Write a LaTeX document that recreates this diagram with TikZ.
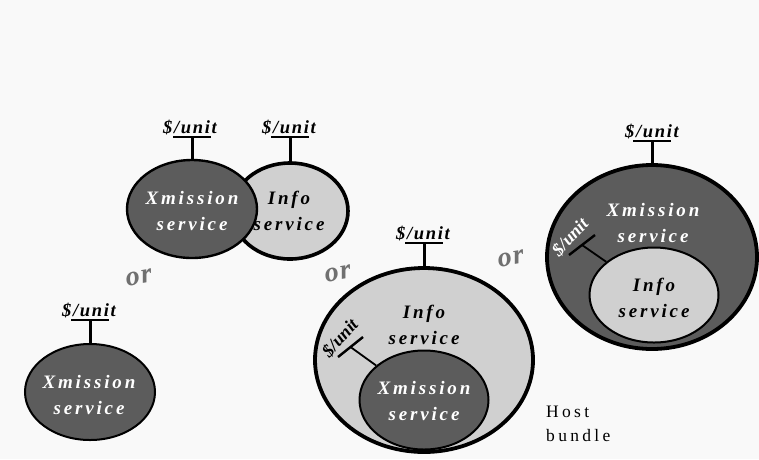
\documentclass[tikz,border=0pt]{standalone}
\usepackage{fontspec}
\setmainfont{Liberation Serif}
\newfontfamily\svcfont[LetterSpace=15]{Liberation Serif}
\newfontfamily\tagfont[LetterSpace=9]{Liberation Serif}
\newfontfamily\orfont[LetterSpace=6]{Liberation Serif}
\newfontfamily\hostfont[LetterSpace=19]{Liberation Serif}
\usetikzlibrary{shapes.geometric}
\definecolor{bgcol}{HTML}{F9F9F9}
\definecolor{darksvc}{HTML}{5C5C5C}
\definecolor{lightsvc}{HTML}{D0D0D0}
\definecolor{orgray}{HTML}{707070}
\tikzset{
  svc/.style={ellipse, draw=black, inner sep=0pt},
  darksvc/.style={svc, fill=darksvc},
  lightsvc/.style={svc, fill=lightsvc},
  svctext/.style={align=center, inner sep=0pt,
    font=\svcfont\fontsize{19}{25.5}\selectfont\bfseries\itshape},
  price/.style={anchor=base, inner sep=0pt,
    font=\tagfont\fontsize{18.5}{20}\selectfont\bfseries\itshape},
  smallprice/.style={inner sep=0pt,
    font=\fontsize{18}{20}\selectfont\bfseries\itshape},
  stem/.style={line width=3pt},
  bar/.style={line width=2.6pt},
  tick/.style={line width=2.4pt},
  link/.style={line width=1.8pt},
  ortext/.style={text=orgray, inner sep=0pt, rotate=10,
    font=\orfont\fontsize{28}{30}\selectfont\bfseries\itshape},
}
\begin{document}
\begin{tikzpicture}[x=1pt, y=-1pt]
  \fill[bgcol] (0,0) rectangle (759,459);
  \useasboundingbox (0,0) rectangle (759,459);

  % ---- separate Xmission and Info services, each priced ----
  \node[lightsvc, line width=3.6pt, minimum width=116pt, minimum height=96pt] (info1) at (290,211) {};
  \node[darksvc, line width=2.4pt, minimum width=130pt, minimum height=98pt] (xm1) at (192,209) {};
  \node[svctext, text=white] (xm1t) at (192,211) {Xmission\\service};
  \node[svctext, text=black] (info1t) at (289,211) {Info\\service};

  \coordinate (b1) at (192,137);
  \node[price] (p1) at (190,133) {\$/unit};
  \draw[bar] ([xshift=-19pt]b1) -- ([xshift=19pt]b1);
  \draw[stem] (b1) -- (xm1.north);

  \coordinate (b2) at (290,137);
  \node[price] (p2) at (289,133) {\$/unit};
  \draw[bar] ([xshift=-19pt]b2) -- ([xshift=19pt]b2);
  \draw[stem] (b2) -- (info1.north);

  % ---- Xmission service alone ----
  \node[darksvc, line width=2pt, minimum width=130pt, minimum height=96pt] (xm2) at (90,392) {};
  \node[svctext, text=white] (xm2t) at (89,395) {Xmission\\service};
  \coordinate (b3) at (90,320);
  \node[price] (p3) at (89,316) {\$/unit};
  \draw[bar] ([xshift=-19pt]b3) -- ([xshift=19pt]b3);
  \draw[stem] (b3) -- (xm2.north);

  % ---- Info service hosting Xmission ----
  \node[lightsvc, line width=3.8pt, minimum width=218pt, minimum height=184pt] (info3) at (424,360) {};
  \node[darksvc, line width=2pt, minimum width=129pt, minimum height=99pt] (xm3) at (424,400) {};
  \node[svctext, text=black] (info3t) at (424,325) {Info\\service};
  \node[svctext, text=white] (xm3t) at (424,401) {Xmission\\service};
  \coordinate (b4) at (424,243);
  \node[price] (p4) at (423,239) {\$/unit};
  \draw[bar] ([xshift=-19pt]b4) -- ([xshift=19pt]b4);
  \draw[stem] (b4) -- (info3.north);
  \node[smallprice, text=black, rotate=48] (p5) at (340,338) {\$/unit};
  \coordinate (k5a) at (338,357);
  \coordinate (k5b) at (363,337);
  \coordinate (k5) at (350.5,347);
  \draw[tick] (k5a) -- (k5b);
  \draw[link] (k5) -- (xm3);
  \node[anchor=base west, inner sep=0pt, align=left,
    font=\hostfont\fontsize{17.5}{23.5}\selectfont] (host) at (546,441) {Host\\bundle};

  % ---- Xmission hosting Info ----
  \node[darksvc, line width=3.8pt, minimum width=210pt, minimum height=184pt] (xm4) at (652,257) {};
  \node[lightsvc, line width=2pt, minimum width=129pt, minimum height=95pt] (info4) at (654,295) {};
  \node[svctext, text=white] (xm4t) at (653,223) {Xmission\\service};
  \node[svctext, text=black] (info4t) at (654,298) {Info\\service};
  \coordinate (b6) at (652,141);
  \node[price] (p6) at (652,137) {\$/unit};
  \draw[bar] ([xshift=-19pt]b6) -- ([xshift=19pt]b6);
  \draw[stem] (b6) -- (xm4.north);
  \node[smallprice, text=white, rotate=47] (p7) at (570,237) {\$/unit};
  \coordinate (k7a) at (569,255);
  \coordinate (k7b) at (595,235);
  \coordinate (k7) at (582,245);
  \draw[tick] (k7a) -- (k7b);
  \draw[link] (k7) -- (info4);

  % ---- alternatives ----
  \node[ortext] (or1) at (139,278) {or};
  \node[ortext] (or2) at (338,274) {or};
  \node[ortext] (or3) at (511,259) {or};
\end{tikzpicture}
\end{document}
